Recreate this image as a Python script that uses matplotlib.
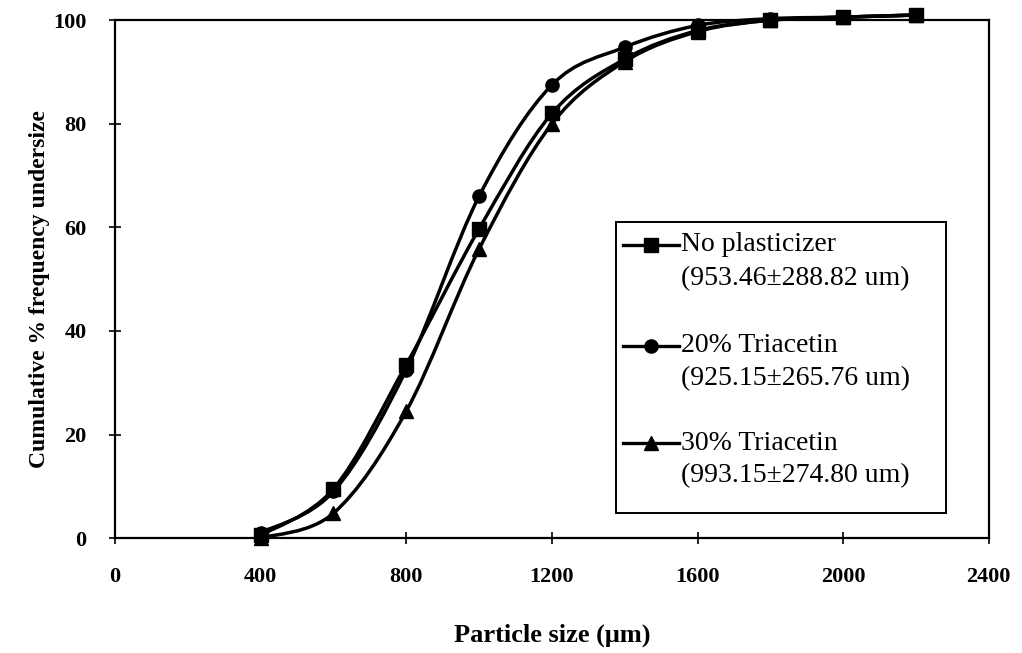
import matplotlib
matplotlib.use("Agg")
import matplotlib.pyplot as plt
import numpy as np
from matplotlib.path import Path
from matplotlib.patches import PathPatch, Rectangle
from matplotlib.lines import Line2D

# sieve sizes (um) and cumulative % undersize for each formulation
sizes = [400, 600, 800, 1000, 1200, 1400, 1600, 1800, 2000, 2200]
no_plasticizer = [0.5, 9.5, 33.5, 59.7, 82.0, 92.5, 98.0, 100.0, 100.6, 101.0]
triacetin_20 = [1.0, 9.0, 32.5, 66.0, 87.5, 94.8, 99.0, 100.3, 100.6, 101.0]
triacetin_30 = [0.0, 4.8, 24.5, 55.8, 80.0, 92.0, 97.8, 100.0, 100.6, 101.0]

names = ["No plasticizer", "20% Triacetin", "30% Triacetin"]
mean_sd = ["(953.46\u00b1288.82 um)", "(925.15\u00b1265.76 um)", "(993.15\u00b1274.80 um)"]
markers = ["s", "o", "^"]
marker_sizes = [10, 9.5, 10]

x_ticks = [0, 400, 800, 1200, 1600, 2000, 2400]
y_ticks = [0, 20, 40, 60, 80, 100]

serif = ["Liberation Serif", "DejaVu Serif"]


def smooth_path(xs, ys):
    # Catmull-Rom segments written as cubic Bezier curves (Excel style smoothing)
    pts = np.column_stack([xs, ys]).astype(float)
    n = len(pts)
    verts = [pts[0]]
    codes = [Path.MOVETO]
    for i in range(n - 1):
        p0 = pts[i - 1] if i > 0 else pts[i]
        p1 = pts[i]
        p2 = pts[i + 1]
        p3 = pts[i + 2] if i + 2 < n else pts[i + 1]
        c1 = p1 + (p2 - p0) / 6.0
        c2 = p2 - (p3 - p1) / 6.0
        verts += [c1, c2, p2]
        codes += [Path.CURVE4] * 3
    return Path(verts, codes)


fig = plt.figure(figsize=(10.22, 6.53), dpi=100)
ax = fig.add_axes([0.1125, 0.176, 0.855, 0.793])

for vals, mk, ms in zip([no_plasticizer, triacetin_20, triacetin_30], markers, marker_sizes):
    patch = PathPatch(smooth_path(sizes, vals), facecolor="none", edgecolor="black",
                      linewidth=2.5, transform=ax.transData, clip_on=False)
    ax.add_patch(patch)
    ax.plot(sizes, vals, linestyle="none", marker=mk, markersize=ms,
            color="black", clip_on=False, zorder=3)

ax.set_xlim(0, 2400)
ax.set_ylim(0, 100)
ax.set_xticks(x_ticks)
ax.set_yticks(y_ticks)
ax.tick_params(direction="inout", length=9, width=1.2)
ax.tick_params(axis="x", pad=16)
ax.tick_params(axis="y", pad=16)
for lab in ax.get_xticklabels() + ax.get_yticklabels():
    lab.set_fontfamily(serif)
    lab.set_fontweight("bold")
    lab.set_fontsize(16)
for sp in ax.spines.values():
    sp.set_linewidth(1.6)

ax.set_xlabel("Particle size (\u03bcm)", fontfamily=serif, fontweight="bold",
              fontsize=19, labelpad=27)
ax.set_ylabel("Cumulative % frequency undersize", fontfamily=serif,
              fontweight="bold", fontsize=17)
ax.yaxis.set_label_coords(-0.074, 0.48)

# legend box drawn by hand so the marker sits beside the first text line
box = Rectangle((0.573, 0.048), 0.378, 0.562, transform=ax.transAxes,
                facecolor="white", edgecolor="black", linewidth=1.4, zorder=4)
ax.add_patch(box)
row_first = [0.566, 0.371, 0.183]
row_second = [0.502, 0.307, 0.120]
for name, ms_txt, mk, ms, y1, y2 in zip(names, mean_sd, markers, marker_sizes,
                                        row_first, row_second):
    h = Line2D([0.581, 0.613, 0.645], [y1, y1, y1], transform=ax.transAxes,
               color="black", linewidth=2.4, marker=mk, markersize=ms,
               markevery=[1], zorder=5)
    ax.add_line(h)
    ax.text(0.648, y1, name, transform=ax.transAxes, va="center", ha="left",
            fontfamily=serif, fontsize=20, zorder=5)
    ax.text(0.648, y2, ms_txt, transform=ax.transAxes, va="center",
            ha="left", fontfamily=serif, fontsize=20, zorder=5)

fig.savefig("out.png", dpi=100)
